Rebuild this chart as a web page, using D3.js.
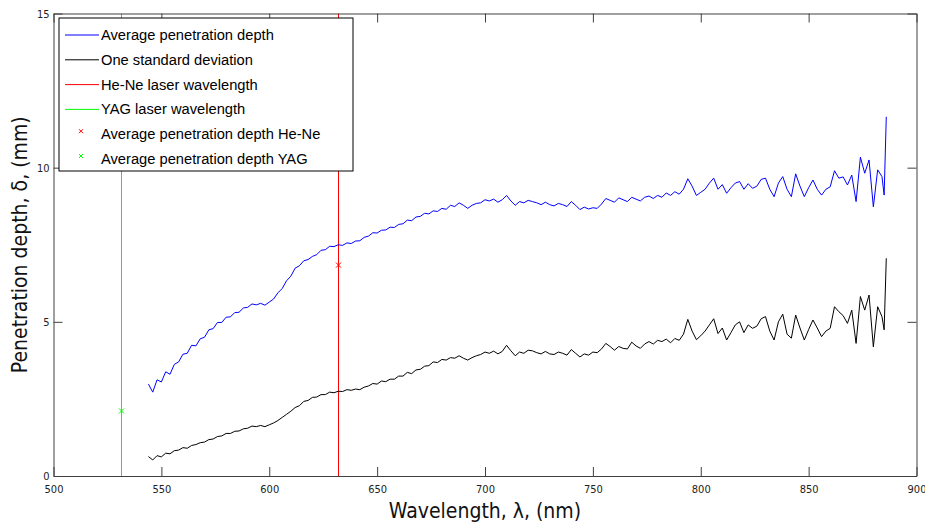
<!DOCTYPE html>
<html>
<head>
<meta charset="utf-8">
<script src="https://cdn.jsdelivr.net/npm/d3@7"></script>
<style>
  body { margin: 0; background: #fff; }
  svg { display: block; }
</style>
</head>
<body>
<div id="chart"></div>
<script>
const wavelength = [
  544, 546, 548, 550, 552, 554, 556, 558, 560, 562, 564, 566, 568, 570, 572, 574, 576, 578, 580, 582,
  584, 586, 588, 590, 592, 594, 596, 598, 600, 602, 604, 606, 608, 610, 612, 614, 616, 618, 620, 622,
  624, 626, 628, 630, 632, 634, 636, 638, 640, 642, 644, 646, 648, 650, 652, 654, 656, 658, 660, 662,
  664, 666, 668, 670, 672, 674, 676, 678, 680, 682, 684, 686, 688, 690, 692, 694, 696, 698, 700, 702,
  704, 706, 708, 710, 712, 714, 716, 718, 720, 722, 724, 726, 728, 730, 732, 734, 736, 738, 740, 742,
  744, 746, 748, 750, 752, 754, 756, 758, 760, 762, 764, 766, 768, 770, 772, 774, 776, 778, 780, 782,
  784, 786, 788, 790, 792, 794, 796, 798, 800, 802, 804, 806, 808, 810, 812, 814, 816, 818, 820, 822,
  824, 826, 828, 830, 832, 834, 836, 838, 840, 842, 844, 846, 848, 850, 852, 854, 856, 858, 860, 862,
  864, 866, 868, 870, 872, 874, 876, 878, 880, 882, 884, 885, 886
];

const avgDepth = [
  2.98, 2.72, 3.12, 3.05, 3.38, 3.30, 3.62, 3.70, 3.95, 3.98, 4.24, 4.22, 4.45, 4.50, 4.74, 4.78, 4.98, 4.98, 5.15, 5.16,
  5.30, 5.31, 5.45, 5.47, 5.58, 5.55, 5.60, 5.54, 5.64, 5.74, 5.94, 6.08, 6.33, 6.48, 6.74, 6.82, 6.98, 7.02, 7.12, 7.18,
  7.32, 7.34, 7.45, 7.44, 7.50, 7.48, 7.56, 7.54, 7.62, 7.63, 7.74, 7.78, 7.89, 7.88, 7.97, 7.98, 8.07, 8.06, 8.16, 8.18,
  8.30, 8.28, 8.40, 8.42, 8.52, 8.50, 8.60, 8.58, 8.68, 8.65, 8.78, 8.74, 8.86, 8.78, 8.68, 8.78, 8.84, 8.86, 8.96, 8.92,
  8.98, 8.88, 8.96, 9.10, 8.92, 8.78, 8.90, 8.86, 8.94, 8.90, 8.86, 8.80, 8.88, 8.80, 8.76, 8.84, 8.80, 8.74, 8.90, 8.78,
  8.64, 8.72, 8.66, 8.70, 8.68, 8.82, 9.00, 8.94, 8.88, 9.02, 8.96, 8.90, 9.04, 8.98, 8.92, 9.04, 9.08, 9.00, 9.10, 9.04,
  9.18, 9.10, 9.22, 9.14, 9.30, 9.64, 9.40, 9.10, 9.20, 9.30, 9.50, 9.66, 9.30, 9.45, 9.17, 9.35, 9.50, 9.55, 9.30, 9.48,
  9.33, 9.40, 9.62, 9.66, 9.30, 9.06, 9.50, 9.71, 9.30, 9.06, 9.80, 9.40, 9.06, 9.35, 9.60, 9.30, 9.11, 9.30, 9.38, 9.90,
  9.66, 9.70, 9.44, 9.76, 8.90, 10.34, 9.82, 10.25, 8.73, 9.93, 9.71, 9.11, 11.65
];

const stdDev = [
  0.63, 0.52, 0.66, 0.62, 0.74, 0.72, 0.82, 0.84, 0.92, 0.90, 0.99, 1.02, 1.08, 1.10, 1.18, 1.20, 1.28, 1.30, 1.38, 1.38,
  1.45, 1.46, 1.53, 1.55, 1.62, 1.60, 1.64, 1.60, 1.66, 1.72, 1.80, 1.90, 2.00, 2.10, 2.22, 2.28, 2.42, 2.45, 2.55, 2.56,
  2.64, 2.64, 2.72, 2.70, 2.75, 2.74, 2.80, 2.78, 2.82, 2.80, 2.88, 2.92, 3.00, 2.98, 3.08, 3.06, 3.14, 3.14, 3.24, 3.24,
  3.36, 3.32, 3.44, 3.46, 3.56, 3.58, 3.70, 3.68, 3.78, 3.76, 3.84, 3.82, 3.90, 3.82, 3.76, 3.84, 3.90, 3.94, 4.02, 3.98,
  4.05, 3.96, 4.04, 4.24, 4.06, 3.90, 4.02, 3.98, 4.08, 4.06, 4.00, 3.96, 4.04, 3.96, 3.94, 4.02, 3.98, 3.92, 4.10, 3.98,
  3.86, 3.96, 3.92, 4.02, 4.00, 4.12, 4.30, 4.20, 4.08, 4.20, 4.14, 4.12, 4.34, 4.22, 4.14, 4.28, 4.36, 4.28, 4.40, 4.36,
  4.44, 4.32, 4.46, 4.40, 4.60, 5.08, 4.70, 4.42, 4.55, 4.70, 4.90, 5.10, 4.62, 4.80, 4.41, 4.65, 4.90, 5.00, 4.65, 4.90,
  4.79, 4.86, 5.10, 5.17, 4.70, 4.41, 5.00, 5.25, 4.60, 4.47, 5.22, 4.80, 4.41, 4.75, 5.06, 4.80, 4.52, 4.70, 4.79, 5.49,
  5.33, 5.20, 4.95, 5.38, 4.30, 5.82, 5.38, 5.87, 4.19, 5.49, 5.17, 4.74, 7.06
];

// He-Ne and YAG laser lines with the measured average depth
const laserNames = ["He-Ne", "YAG"];
const laserWavelengths = [632, 531.6];
const laserDepths = [6.84, 2.11];
const laserColors = ["#ff0000", "#00ff00"];

const xTicks = [500, 550, 600, 650, 700, 750, 800, 850, 900];
const yTicks = [0, 5, 10, 15];

const legendLabels = [
  "Average penetration depth",
  "One standard deviation",
  "He-Ne laser wavelength",
  "YAG laser wavelength",
  "Average penetration depth He-Ne",
  "Average penetration depth YAG"
];

const margin = { top: 13.5, right: 8.5, bottom: 49, left: 53.5 };
const width = 925 - margin.left - margin.right;
const height = 525 - margin.top - margin.bottom;

const svg = d3.select("#chart")
  .append("svg")
  .attr("width", 925)
  .attr("height", 525)
  .append("g")
  .attr("transform", `translate(${margin.left}, ${margin.top})`);

const x = d3.scaleLinear().domain([500, 900]).range([0, width]);
const y = d3.scaleLinear().domain([0, 15]).range([height, 0]);

const tickFont = "'Liberation Sans Narrow', 'DejaVu Sans Condensed', sans-serif";
const axisColor = "#404040";

// laser wavelength lines (snapped to whole pixels so they stay crisp)
laserWavelengths.forEach((wl, i) => {
  const lx = Math.round(x(wl));
  svg.append("line")
    .attr("x1", lx).attr("x2", lx)
    .attr("y1", 0).attr("y2", height)
    .attr("stroke", laserColors[i])
    .attr("stroke-width", 1);
});

const line = d3.line()
  .x((d, i) => x(wavelength[i]))
  .y(d => y(d));

svg.append("path")
  .datum(avgDepth)
  .attr("fill", "none")
  .attr("stroke", "#0000ff")
  .attr("stroke-width", 1)
  .attr("d", line);

svg.append("path")
  .datum(stdDev)
  .attr("fill", "none")
  .attr("stroke", "#000")
  .attr("stroke-width", 1)
  .attr("d", line);

// x markers
function cross(g, cx, cy, color, s) {
  g.append("path")
    .attr("d", `M${cx - s},${cy - s}L${cx + s},${cy + s}M${cx - s},${cy + s}L${cx + s},${cy - s}`)
    .attr("stroke", color)
    .attr("stroke-width", 1)
    .attr("fill", "none");
}
laserWavelengths.forEach((wl, i) => {
  cross(svg, Math.round(x(wl)), y(laserDepths[i]), laserColors[i], 2.5);
});

// axes with inward ticks on all four sides
const tickLen = 9;
svg.append("g")
  .attr("transform", `translate(0,${height})`)
  .call(d3.axisBottom(x).tickValues(xTicks).tickSizeInner(-tickLen).tickSizeOuter(0).tickPadding(7))
  .call(g => g.select(".domain").attr("stroke", axisColor))
  .call(g => g.selectAll(".tick line").attr("stroke", axisColor))
  .call(g => g.selectAll(".tick text").attr("font-family", tickFont).attr("font-size", 11).attr("fill", "#222").attr("dy", "0.9em"));

svg.append("g")
  .call(d3.axisTop(x).tickValues(xTicks).tickSizeInner(-tickLen).tickSizeOuter(0).tickFormat(""))
  .call(g => g.select(".domain").attr("stroke", axisColor))
  .call(g => g.selectAll(".tick line").attr("stroke", axisColor));

svg.append("g")
  .call(d3.axisLeft(y).tickValues(yTicks).tickSizeInner(-tickLen).tickSizeOuter(0).tickPadding(4))
  .call(g => g.select(".domain").attr("stroke", axisColor))
  .call(g => g.selectAll(".tick line").attr("stroke", axisColor))
  .call(g => g.selectAll(".tick text").attr("font-family", tickFont).attr("font-size", 11).attr("fill", "#222"));

svg.append("g")
  .attr("transform", `translate(${width},0)`)
  .call(d3.axisRight(y).tickValues(yTicks).tickSizeInner(-tickLen).tickSizeOuter(0).tickFormat(""))
  .call(g => g.select(".domain").attr("stroke", axisColor))
  .call(g => g.selectAll(".tick line").attr("stroke", axisColor));

// axis titles
svg.append("text")
  .attr("x", width / 2)
  .attr("y", height + 42)
  .attr("text-anchor", "middle")
  .attr("font-family", tickFont)
  .attr("font-size", 21)
  .attr("fill", "#111")
  .text("Wavelength, λ, (nm)");

svg.append("text")
  .attr("transform", "rotate(-90)")
  .attr("x", -height / 2)
  .attr("y", -27)
  .attr("text-anchor", "middle")
  .attr("font-family", tickFont)
  .attr("font-size", 21)
  .attr("fill", "#111")
  .text("Penetration depth, δ, (mm)");

// legend
const legend = svg.append("g")
  .attr("transform", `translate(${59 - margin.left}, ${18 - margin.top})`);

legend.append("rect")
  .attr("width", 294)
  .attr("height", 153)
  .attr("fill", "#fff")
  .attr("stroke", "#000")
  .attr("stroke-width", 1);

const legendColors = ["#0000ff", "#000000", "#ff0000", "#00ff00", "#ff0000", "#00ff00"];
legendLabels.forEach((label, i) => {
  const ly = 17 + i * 24.8;
  if (i < 4) {
    legend.append("line")
      .attr("x1", 6).attr("x2", 40)
      .attr("y1", ly).attr("y2", ly)
      .attr("stroke", legendColors[i])
      .attr("stroke-width", 1);
  } else {
    cross(legend, 22, ly - 3, legendColors[i], 2);
  }
  legend.append("text")
    .attr("x", 42)
    .attr("y", ly + 5)
    .attr("font-family", "'Liberation Sans', Arial, sans-serif")
    .attr("font-size", 14.7)
    .attr("fill", "#000")
    .text(label);
});
</script>
</body>
</html>
